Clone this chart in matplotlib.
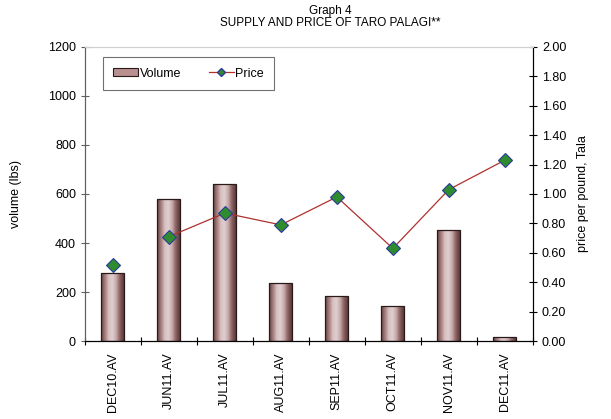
import numpy as np
import matplotlib
matplotlib.use("Agg")
import matplotlib.pyplot as plt
from matplotlib.colors import LinearSegmentedColormap
from matplotlib.lines import Line2D
from matplotlib.patches import Patch

plt.rcParams['font.family'] = ['Liberation Sans', 'DejaVu Sans']

categories = ["DEC10.AV", "JUN11.AV", "JUL11.AV", "AUG11.AV",
              "SEP11.AV", "OCT11.AV", "NOV11.AV", "DEC11.AV"]
volume = [279, 578, 641, 235, 182, 145, 453, 15]
price = [0.52, 0.71, 0.87, 0.79, 0.98, 0.63, 1.03, 1.23]

fig = plt.figure(figsize=(6.11, 4.19), dpi=100)
ax = fig.add_axes([0.139, 0.186, 0.733, 0.702])
x = np.arange(len(categories))

# barres "cylindre" : degrade sombre sur les bords, clair au centre
cyl = LinearSegmentedColormap.from_list(
    "cyl", ["#664242", "#a47c7c", "#d6bfbf", "#e0cfcf", "#c7a8a8", "#8a6060", "#5a3a3a"])
bars = ax.bar(x, volume, width=0.41, color="none", edgecolor="#2b1a1a", linewidth=0.9, zorder=2)
grad = np.linspace(0, 1, 64).reshape(1, -1)
for b in bars:
    im = ax.imshow(grad, cmap=cyl, aspect="auto", zorder=1.5,
                   extent=[b.get_x(), b.get_x() + b.get_width(), 0, b.get_height()])
    im.set_clip_path(b)

ax.set_xlim(-0.5, len(categories) - 0.5)
ax.set_ylim(0, 1200)
ax.set_yticks(range(0, 1201, 200))
ax.set_xticks(np.arange(-0.5, len(categories), 1))
ax.set_xticklabels([])
ax.set_xticks(x, minor=True)
ax.set_xticklabels(categories, minor=True, rotation=90, fontsize=9)
ax.tick_params(axis="x", which="minor", length=0, pad=8)
ax.tick_params(axis="x", which="major", direction="inout", length=6, width=0.8)
ax.tick_params(axis="y", direction="inout", length=6, width=0.8, labelsize=9,
               color="#606060")
ax.set_ylabel("volume (lbs)", fontsize=9, labelpad=19)
ax.spines["top"].set_color("#d0d0d0")
ax.spines["left"].set_color("#606060")

ax2 = ax.twinx()
ax2.set_ylim(0, 2.0)
ax2.set_yticks(np.arange(0, 2.01, 0.2))
ax2.set_yticklabels([f"{v:.2f}" for v in np.arange(0, 2.01, 0.2)], fontsize=9)
ax2.tick_params(axis="y", direction="inout", length=6, width=0.8)
ax2.set_ylabel("price per pound, Tala", fontsize=9, labelpad=8)
ax2.spines["top"].set_color("#d0d0d0")
ax2.spines["left"].set_color("#606060")

ax2.plot(x[1:], price[1:], color="#b03030", linewidth=0.9, zorder=3)
ax2.plot(x, price, linestyle="none", marker="D", markersize=7,
         markerfacecolor="#2e8b2e", markeredgecolor="#2a3c9a", markeredgewidth=0.8, zorder=4)

handles = [Patch(facecolor="#b99090", edgecolor="#2b1a1a", linewidth=0.8),
           Line2D([], [], color="#b03030", linewidth=0.9, marker="D", markersize=4.5,
                  markerfacecolor="#2e8b2e", markeredgecolor="#2a3c9a")]
leg = ax2.legend(handles, ["Volume", "Price"], ncol=2, loc="upper left",
                 bbox_to_anchor=(0.04, 0.966), borderaxespad=0, fontsize=9,
                 fancybox=False, edgecolor="#707070", framealpha=1,
                 handlelength=2.0, handletextpad=0.1, columnspacing=2.2,
                 borderpad=0.85, handleheight=0.6)
leg.get_frame().set_linewidth(0.8)

fig.text(0.54, 0.988, "Graph 4\nSUPPLY AND PRICE OF TARO PALAGI**",
         ha="center", va="top", fontsize=8.5, linespacing=1.05)

fig.savefig("out.png", dpi=100)
